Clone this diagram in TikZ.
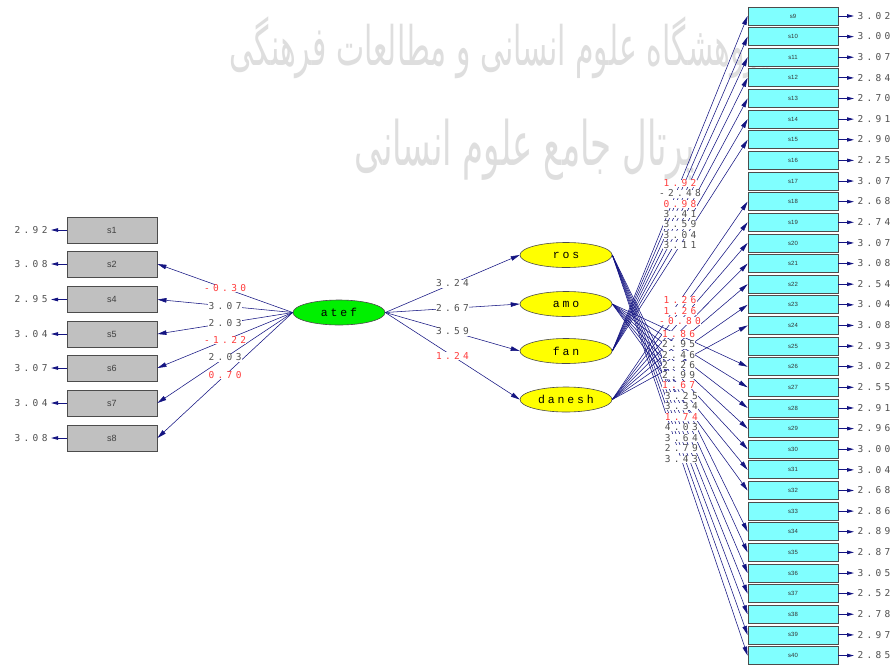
\documentclass[tikz,border=0pt]{standalone}
\usepackage{fontspec}
\usetikzlibrary{arrows.meta,shapes.geometric}
\TeXXeTstate=1
\newfontfamily\arabicfont[Script=Arabic]{DejaVu Sans}
\newfontfamily\numfont[LetterSpace=35]{DejaVu Sans Mono}
\newfontfamily\latfont[LetterSpace=25]{Liberation Mono}
\newfontfamily\boxfont{Liberation Sans}
\definecolor{navyline}{RGB}{20,20,130}
\definecolor{numgray}{RGB}{80,80,80}
\definecolor{numred}{RGB}{255,60,60}
\definecolor{boxgray}{RGB}{192,192,192}
\definecolor{boxcyan}{RGB}{128,255,255}
\definecolor{latgreen}{RGB}{0,240,0}
\definecolor{latyellow}{RGB}{255,255,0}
\definecolor{wmgray}{RGB}{222,222,222}
\begin{document}
\begin{tikzpicture}[x=1pt,y=-1pt,
  lbox/.style={draw=black!70, fill=boxgray, line width=0.9pt, minimum width=90pt, minimum height=26pt, inner sep=0pt, font=\boxfont\fontsize{9}{9}\selectfont, text=black!75},
  rbox/.style={draw=black!70, fill=boxcyan, line width=0.8pt, minimum width=90pt, minimum height=18pt, inner sep=0pt, font=\boxfont\fontsize{6}{6}\selectfont, text=black!80},
  latent/.style={ellipse, draw=black!70, line width=0.6pt, minimum width=92pt, minimum height=25pt, inner sep=0pt, font=\latfont\fontsize{11.5}{11.5}\selectfont},
  num/.style={font=\numfont\fontsize{9.5}{9.5}\selectfont, text=numgray, inner sep=0.3pt, text height=6.6pt, text depth=0.3pt},
  numr/.style={num, text=numred},
  plab/.style={fill=white},
  pathline/.style={draw=navyline, line width=0.55pt, -{Triangle[length=9pt,width=4.5pt]}},
  errline/.style={draw=navyline, line width=0.9pt, -{Triangle[length=7pt,width=3.5pt]}, shorten >=3pt}
]
\fill[white] (0,0) rectangle (896,664);
\useasboundingbox (0,0) rectangle (896,664);

% watermark
\node[text=wmgray, inner sep=0pt, anchor=east] (wm1) at (770,48) {\scalebox{0.88}[1.6]{\arabicfont\fontsize{34}{34}\selectfont\beginR پژوهشگاه علوم انسانی و مطالعات فرهنگی\endR}};
\node[text=wmgray, inner sep=0pt] (wm2) at (525,150) {\scalebox{1}[1.8]{\arabicfont\fontsize{34}{34}\selectfont\beginR پرتال جامع علوم انسانی\endR}};

% left indicators
\foreach \k/\y/\v in {1/230/2.92, 2/264/3.08, 4/299.5/2.95, 5/334/3.04, 6/368/3.07, 7/403/3.04, 8/438/3.08}{
  \node[lbox] (s\k) at (112,\y) {s\k};
  \node[num, anchor=east] (e\k) at (48,\y) {\v};
  \draw[errline] (s\k.west) -- (e\k.east);
}

% right indicators
\foreach \k/\v in {9/3.02, 10/3.00, 11/3.07, 12/2.84, 13/2.70, 14/2.91, 15/2.90, 16/2.25, 17/3.07, 18/2.68, 19/2.74, 20/3.07, 21/3.08, 22/2.54, 23/3.04, 24/3.08, 25/2.93, 26/3.02, 27/2.55, 28/2.91, 29/2.96, 30/3.00, 31/3.04, 32/2.68, 33/2.86, 34/2.89, 35/2.87, 36/3.05, 37/2.52, 38/2.78, 39/2.97, 40/2.85}{
  \node[rbox] (s\k) at (793,{16+(\k-9)*20.63}) {s\k};
  \node[num, anchor=west] (e\k) at (857,{16+(\k-9)*20.63}) {\v};
  \draw[errline] (s\k.east) -- (e\k.west);
}

% latent variables
\node[latent, fill=latgreen] (atef) at (339,312.5) {atef};
\node[latent, fill=latyellow] (ros) at (566,255) {ros};
\node[latent, fill=latyellow] (amo) at (566,304) {amo};
\node[latent, fill=latyellow] (fan) at (566,351) {fan};
\node[latent, fill=latyellow] (danesh) at (566,399.5) {danesh};

% left paths
\foreach \k in {2,4,5,6,7,8}{ \draw[pathline] (atef.west) -- (s\k.east); }
% structural paths
\foreach \f in {ros,amo,fan,danesh}{ \draw[pathline] (atef.east) -- (\f.west); }
% right paths
\foreach \k in {9,...,15}{ \draw[pathline] (fan.east) -- (s\k.west); }
\foreach \k in {18,...,24}{ \draw[pathline] (danesh.east) -- (s\k.west); }
\foreach \k in {26,...,32}{ \draw[pathline] (amo.east) -- (s\k.west); }
\foreach \k in {34,...,40}{ \draw[pathline] (ros.east) -- (s\k.west); }

% labels
\foreach \k/\v/\c in {2/-0.30/numr, 4/3.07/num, 5/2.03/num, 6/-1.22/numr, 7/2.03/num, 8/0.70/numr}{
  \path (atef.west) -- node[\c, plab] {\v} (s\k.east);
}
\foreach \f/\v/\c in {ros/3.24/num, amo/2.67/num, fan/3.59/num, danesh/1.24/numr}{
  \path (atef.east) -- node[\c, plab] {\v} (\f.west);
}
\foreach \k/\v/\c in {9/1.92/numr, 10/-2.48/num, 11/0.98/numr, 12/3.41/num, 13/3.59/num, 14/3.04/num, 15/3.11/num}{
  \path (fan.east) -- node[\c, plab] {\v} (s\k.west);
}
\foreach \k/\v/\c in {18/1.26/numr, 19/1.26/numr, 20/-0.80/numr}{
  \path (danesh.east) -- node[\c, plab] {\v} (s\k.west);
}
\foreach \k/\v/\c in {26/1.86/numr, 27/2.95/num, 28/2.46/num, 29/2.26/num, 30/2.99/num, 31/1.67/numr}{
  \path (amo.east) -- node[pos=0.49, \c, plab] {\v} (s\k.west);
}
\foreach \k/\v/\c in {34/3.25/num, 35/3.34/num, 36/1.74/numr, 37/4.03/num, 38/3.64/num, 39/2.79/num, 40/3.43/num}{
  \path (ros.east) -- node[pos=0.51, \c, plab] {\v} (s\k.west);
}
\end{tikzpicture}
\end{document}
